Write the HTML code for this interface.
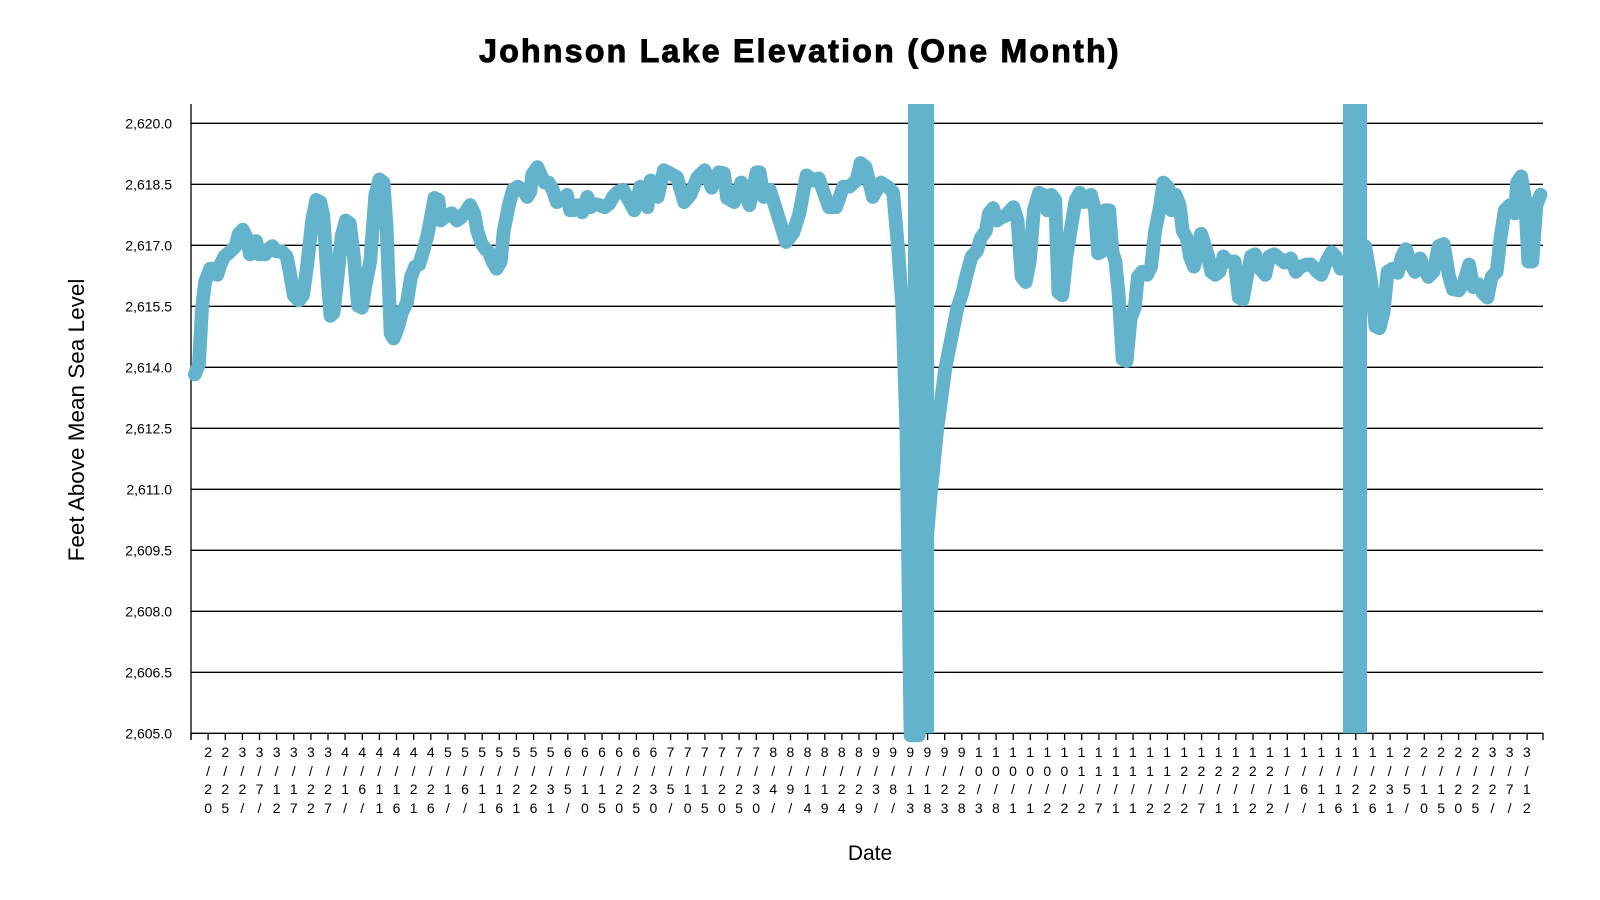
<!DOCTYPE html>
<html><head><meta charset="utf-8">
<style>
body{margin:0;background:#fff;width:1600px;height:900px;overflow:hidden;position:relative;font-family:"Liberation Sans",Arial,sans-serif}
#xl{position:absolute;left:199.56px;top:743px;display:flex}
#xl div{width:17.13px;flex:none;text-align:center;font-size:14px;line-height:18.5px;color:#000}
</style></head><body>
<svg width="1600" height="900" style="position:absolute;left:0;top:0">
<text x="800" y="62" text-anchor="middle" font-family="Liberation Sans,Arial,sans-serif" font-weight="bold" font-size="32" letter-spacing="2.3" stroke="#000" stroke-width="1">Johnson Lake Elevation (One Month)</text>
<g stroke="#000" stroke-width="1.3">
<line x1="191" x2="1543" y1="123.3" y2="123.3"/><line x1="191" x2="1543" y1="184.3" y2="184.3"/>
<line x1="191" x2="1543" y1="245.3" y2="245.3"/><line x1="191" x2="1543" y1="306.3" y2="306.3"/>
<line x1="191" x2="1543" y1="367.3" y2="367.3"/><line x1="191" x2="1543" y1="428.3" y2="428.3"/>
<line x1="191" x2="1543" y1="489.3" y2="489.3"/><line x1="191" x2="1543" y1="550.3" y2="550.3"/>
<line x1="191" x2="1543" y1="611.3" y2="611.3"/><line x1="191" x2="1543" y1="672.3" y2="672.3"/>
<line x1="191" x2="1543" y1="733.3" y2="733.3"/>
<line x1="191" x2="191" y1="104" y2="740"/>
</g>
<g font-size="14" text-anchor="end" font-family="Liberation Sans,Arial,sans-serif">
<text x="172" y="128.3">2,620.0</text><text x="172" y="189.3">2,618.5</text><text x="172" y="250.3">2,617.0</text>
<text x="172" y="311.3">2,615.5</text><text x="172" y="372.3">2,614.0</text><text x="172" y="433.3">2,612.5</text>
<text x="172" y="494.3">2,611.0</text><text x="172" y="555.3">2,609.5</text><text x="172" y="616.3">2,608.0</text>
<text x="172" y="677.3">2,606.5</text><text x="172" y="738.3">2,605.0</text>
</g>
<text transform="translate(84,420) rotate(-90)" text-anchor="middle" font-size="22.5" font-family="Liberation Sans,Arial,sans-serif">Feet Above Mean Sea Level</text>
<text x="870" y="860" text-anchor="middle" font-size="21" font-family="Liberation Sans,Arial,sans-serif">Date</text>
<path stroke="#000" stroke-width="1.3" fill="none" d="M191,733v7M208.1,733v7M225.3,733v7M242.4,733v7M259.5,733v7M276.6,733v7M293.8,733v7M310.9,733v7M328,733v7M345.1,733v7M362.3,733v7M379.4,733v7M396.5,733v7M413.7,733v7M430.8,733v7M447.9,733v7M465.1,733v7M482.2,733v7M499.3,733v7M516.4,733v7M533.6,733v7M550.7,733v7M567.8,733v7M584.9,733v7M602.1,733v7M619.2,733v7M636.4,733v7M653.5,733v7M670.6,733v7M687.7,733v7M704.9,733v7M722,733v7M739.1,733v7M756.3,733v7M773.4,733v7M790.5,733v7M807.7,733v7M824.8,733v7M841.9,733v7M859,733v7M876.2,733v7M893.3,733v7M910.4,733v7M927.6,733v7M944.7,733v7M961.8,733v7M979,733v7M996.1,733v7M1013.2,733v7M1030.3,733v7M1047.5,733v7M1064.6,733v7M1081.7,733v7M1098.9,733v7M1116,733v7M1133.1,733v7M1150.3,733v7M1167.4,733v7M1184.5,733v7M1201.6,733v7M1218.8,733v7M1235.9,733v7M1253,733v7M1270.2,733v7M1287.3,733v7M1304.4,733v7M1321.6,733v7M1338.7,733v7M1355.8,733v7M1372.9,733v7M1390.1,733v7M1407.2,733v7M1424.3,733v7M1441.5,733v7M1458.6,733v7M1475.7,733v7M1492.9,733v7M1510,733v7M1527.1,733v7M1543,733v7"/>
<g transform="translate(1.2,0) scale(1.0194,1.0256)">
<polyline fill="none" stroke="#63b3cd" stroke-width="13.5" stroke-linejoin="round" stroke-linecap="round" points="190,365 194,355 197,300 200,275 205,262 208,262 212,268 215,258 219,250 225,245 230,240 233,228 237,224 241,232 244,248 247,236 250,235 253,248 256,245 259,248 262,243 266,240 270,245 275,245 280,250 283,265 287,288 292,293 296,288 300,260 305,215 309,195 313,197 316,210 320,270 323,308 326,305 330,270 334,230 338,215 342,218 346,250 350,298 354,300 357,280 362,255 367,190 371,175 375,178 378,220 382,325 385,330 389,320 393,305 398,295 402,270 406,260 410,258 414,245 418,230 421,215 425,193 429,195 431,215 437,210 442,208 447,215 451,212 456,206 460,200 464,208 467,225 471,237 475,243 478,245 482,255 486,262 490,255 493,225 498,200 502,185 507,182 512,186 516,192 519,187 521,170 526,163 530,172 533,178 537,178 541,185 545,197 550,195 555,190 558,205 561,205 566,200 570,207 575,192 578,202 582,199 587,200 592,202 597,198 600,192 605,187 610,185 614,192 621,205 627,182 634,202 637,176 644,192 650,166 656,169 663,173 670,197 676,190 683,173 690,166 697,183 704,168 709,169 712,193 719,197 726,178 734,200 741,168 744,168 748,192 754,185 761,207 770,236 777,227 783,208 790,171 797,176 802,174 812,202 819,202 826,182 832,182 839,176 843,159 848,163 855,192 863,178 871,183 875,188 880,244 884,300 888,420 892,717 900,717 905,560 912,480 918,420 922,390 926,360 930,340 934,320 938,300 943,285 947,268 952,250 957,245 961,232 966,225 969,208 973,203 977,215 981,212 986,210 990,205 993,202 997,215 1001,270 1005,275 1009,255 1013,205 1018,188 1022,190 1026,205 1030,190 1034,195 1037,285 1041,288 1045,250 1049,225 1054,195 1058,188 1062,197 1066,195 1069,190 1073,205 1076,247 1080,245 1083,205 1087,205 1090,245 1093,255 1096,285 1100,350 1104,352 1108,310 1112,300 1115,270 1119,265 1124,268 1128,260 1132,225 1137,200 1140,178 1145,183 1148,205 1152,190 1156,200 1159,225 1163,232 1166,250 1170,260 1174,248 1177,228 1181,240 1184,250 1187,265 1191,268 1195,265 1199,250 1203,255 1210,255 1214,290 1218,292 1222,270 1226,250 1230,248 1235,262 1240,268 1244,250 1249,248 1254,252 1259,256 1265,252 1270,265 1275,260 1280,258 1285,258 1291,265 1295,268 1300,255 1305,246 1309,250 1314,262 1318,258 1322,255 1328,320 1338,240 1344,275 1348,318 1352,320 1356,305 1360,265 1365,262 1370,266 1374,250 1378,243 1383,258 1387,265 1392,252 1396,262 1400,270 1405,265 1410,240 1415,238 1420,268 1424,282 1430,283 1435,275 1440,258 1444,280 1449,277 1453,285 1458,290 1462,270 1467,265 1471,230 1475,205 1480,200 1485,208 1487,178 1491,172 1495,195 1498,255 1502,255 1506,200 1510,190"/>
</g>
<rect x="908" y="104" width="26" height="629.3" fill="#63b3cd"/>
<rect x="1343" y="104" width="24" height="629.3" fill="#63b3cd"/>
</svg>
<div id="xl">
<div>2<br>/<br>2<br>0</div><div>2<br>/<br>2<br>5</div><div>3<br>/<br>2<br>/</div><div>3<br>/<br>7<br>/</div><div>3<br>/<br>1<br>2</div><div>3<br>/<br>1<br>7</div><div>3<br>/<br>2<br>2</div><div>3<br>/<br>2<br>7</div><div>4<br>/<br>1<br>/</div><div>4<br>/<br>6<br>/</div><div>4<br>/<br>1<br>1</div><div>4<br>/<br>1<br>6</div><div>4<br>/<br>2<br>1</div><div>4<br>/<br>2<br>6</div><div>5<br>/<br>1<br>/</div><div>5<br>/<br>6<br>/</div><div>5<br>/<br>1<br>1</div><div>5<br>/<br>1<br>6</div><div>5<br>/<br>2<br>1</div><div>5<br>/<br>2<br>6</div><div>5<br>/<br>3<br>1</div><div>6<br>/<br>5<br>/</div><div>6<br>/<br>1<br>0</div><div>6<br>/<br>1<br>5</div><div>6<br>/<br>2<br>0</div><div>6<br>/<br>2<br>5</div><div>6<br>/<br>3<br>0</div><div>7<br>/<br>5<br>/</div><div>7<br>/<br>1<br>0</div><div>7<br>/<br>1<br>5</div><div>7<br>/<br>2<br>0</div><div>7<br>/<br>2<br>5</div><div>7<br>/<br>3<br>0</div><div>8<br>/<br>4<br>/</div><div>8<br>/<br>9<br>/</div><div>8<br>/<br>1<br>4</div><div>8<br>/<br>1<br>9</div><div>8<br>/<br>2<br>4</div><div>8<br>/<br>2<br>9</div><div>9<br>/<br>3<br>/</div><div>9<br>/<br>8<br>/</div><div>9<br>/<br>1<br>3</div><div>9<br>/<br>1<br>8</div><div>9<br>/<br>2<br>3</div><div>9<br>/<br>2<br>8</div><div>1<br>0<br>/<br>3</div><div>1<br>0<br>/<br>8</div><div>1<br>0<br>/<br>1</div><div>1<br>0<br>/<br>1</div><div>1<br>0<br>/<br>2</div><div>1<br>0<br>/<br>2</div><div>1<br>1<br>/<br>2</div><div>1<br>1<br>/<br>7</div><div>1<br>1<br>/<br>1</div><div>1<br>1<br>/<br>1</div><div>1<br>1<br>/<br>2</div><div>1<br>1<br>/<br>2</div><div>1<br>2<br>/<br>2</div><div>1<br>2<br>/<br>7</div><div>1<br>2<br>/<br>1</div><div>1<br>2<br>/<br>1</div><div>1<br>2<br>/<br>2</div><div>1<br>2<br>/<br>2</div><div>1<br>/<br>1<br>/</div><div>1<br>/<br>6<br>/</div><div>1<br>/<br>1<br>1</div><div>1<br>/<br>1<br>6</div><div>1<br>/<br>2<br>1</div><div>1<br>/<br>2<br>6</div><div>1<br>/<br>3<br>1</div><div>2<br>/<br>5<br>/</div><div>2<br>/<br>1<br>0</div><div>2<br>/<br>1<br>5</div><div>2<br>/<br>2<br>0</div><div>2<br>/<br>2<br>5</div><div>3<br>/<br>2<br>/</div><div>3<br>/<br>7<br>/</div><div>3<br>/<br>1<br>2</div>
</div>
</body></html>
